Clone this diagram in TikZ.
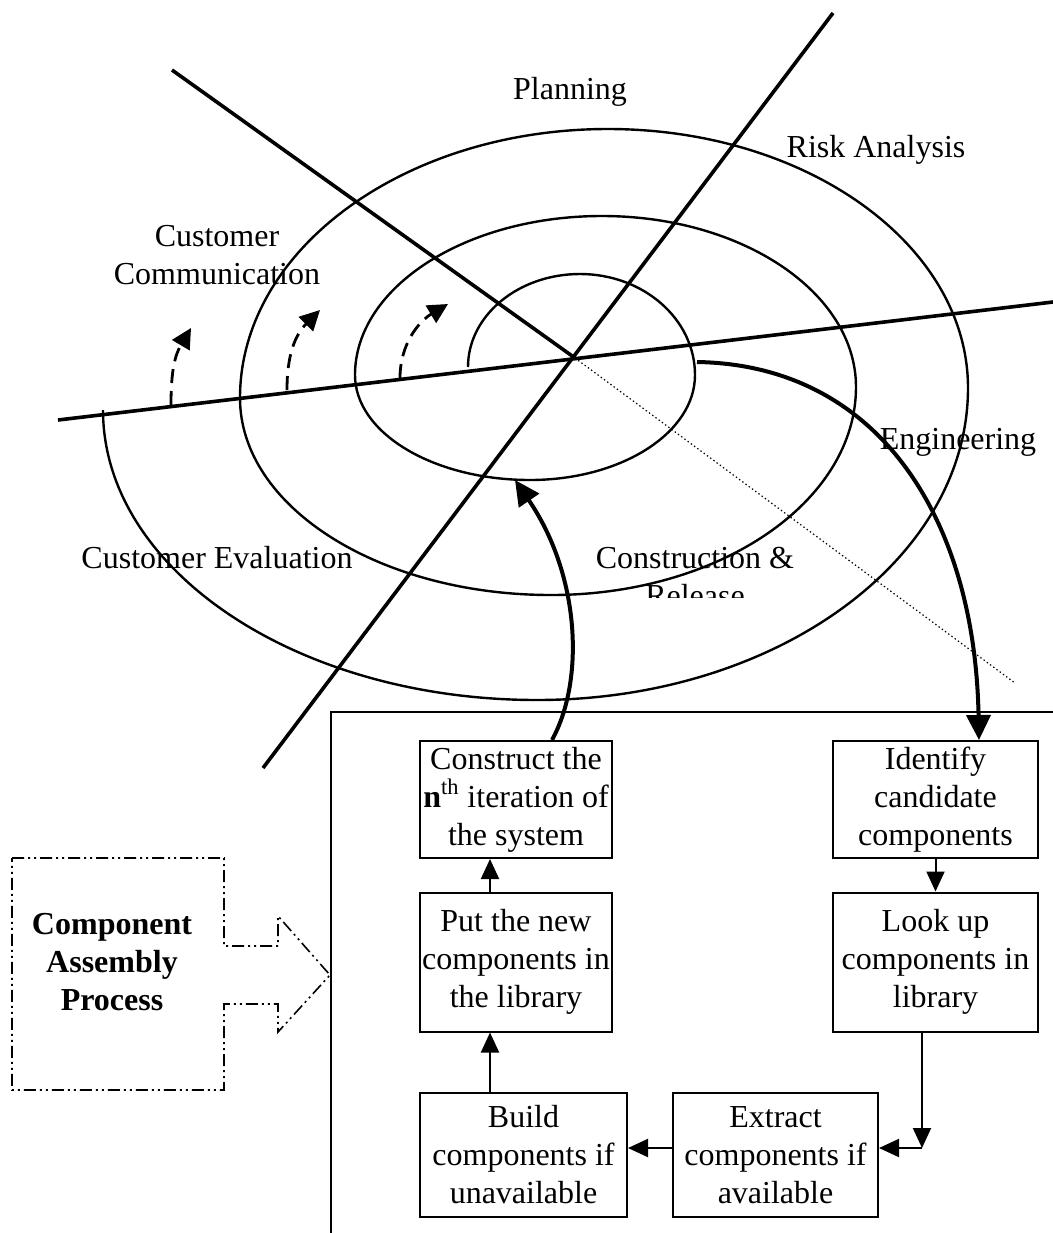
\documentclass[tikz,border=0pt]{standalone}
\usepackage{fontspec}
\setmainfont{Liberation Serif}
\usetikzlibrary{arrows.meta}
\begin{document}
\begin{tikzpicture}[x=0.5pt,y=-0.5pt,
  axis/.style={line width=1.8pt},
  spiral/.style={line width=1.2pt},
  loop/.style={dash pattern=on 7pt off 4pt, line width=1.4pt,
    -{Triangle[length=10pt,width=10pt]}},
  flow/.style={line width=2pt, -{Triangle[length=12.5pt,width=12pt]}},
  link/.style={line width=1pt, -{Triangle[length=10pt,width=9pt]}},
  stepbox/.style={draw, line width=1pt, align=center, inner sep=0pt,
    font=\fontsize{16}{19}\selectfont},
  label/.style={align=center, font=\fontsize{16}{19}\selectfont},
  ddot/.style={line width=0.8pt,
    dash pattern=on 6pt off 2pt on 1pt off 2pt on 1pt off 2pt},
]
\useasboundingbox (0,0) rectangle (1053,1233);

% quadrant axes
\coordinate (ctr) at (575,358);
\draw[axis] (58,420) -- (1053,302);
\draw[axis] (172,70) -- (ctr);
\draw[axis] (833,13) -- (263,768);
\draw[line width=0.6pt, dash pattern=on 0.7pt off 1.3pt] (ctr) -- (1015,683);

% spiral built from quarter ellipses
\draw[spiral] (468,367)
  arc[start angle=180, end angle=270, x radius=112, y radius=93]
  arc[start angle=270, end angle=360, x radius=115, y radius=101]
  arc[start angle=0,   end angle=90,  x radius=165, y radius=105]
  arc[start angle=90,  end angle=180, x radius=175, y radius=105]
  arc[start angle=180, end angle=270, x radius=247, y radius=159]
  arc[start angle=270, end angle=360, x radius=254, y radius=171]
  arc[start angle=0,   end angle=90,  x radius=305, y radius=208]
  arc[start angle=90,  end angle=180, x radius=311, y radius=197]
  arc[start angle=180, end angle=270, x radius=368, y radius=269]
  arc[start angle=270, end angle=360, x radius=360, y radius=259]
  arc[start angle=0,   end angle=90,  x radius=431, y radius=312]
  arc[start angle=90,  end angle=180, x radius=434, y radius=290];

% dashed progress arrows
\coordinate (d1s) at (171,405); \coordinate (d1e) at (191,328);
\coordinate (d2s) at (287,390); \coordinate (d2e) at (320,310);
\coordinate (d3s) at (400,378); \coordinate (d3e) at (448,304);
\draw[loop] (d1s) .. controls (171,370) and (175,355) .. (d1e);
\draw[loop] (d2s) .. controls (287,355) and (295,335) .. (d2e);
\draw[loop] (d3s) .. controls (400,345) and (418,322) .. (d3e);

% sector labels
\node[label] (plan) at (570,92) {Planning};
\node[label] (risk) at (876,150) {Risk Analysis};
\node[label] (comm) at (217,255) {Customer\\Communication};
\node[label] (eng) at (958,442) {Engineering};
\node[label] (eval) at (217,558) {Customer Evaluation};
\begin{scope}
  \clip (540,500) rectangle (840,597);
  \node[label] (cons) at (695,577) {Construction \&\\Release};
\end{scope}

% component assembly frame
\draw[line width=1pt] (331,1233) -- (331,712) -- (1053,712);

% process steps
\node[stepbox, minimum width=96pt, minimum height=58.5pt] (b1) at (516,799.5)
  {Construct the\\\textbf{n}\textsuperscript{th} iteration of\\the system};
\node[stepbox, minimum width=102.5pt, minimum height=58.5pt] (b2) at (935.5,799.5)
  {Identify\\candidate\\components};
\node[stepbox, minimum width=96pt, minimum height=69.5pt] (b3) at (516,962)
  {Put the new\\components in\\the library};
\node[stepbox, minimum width=102.5pt, minimum height=69.5pt] (b4) at (935.5,962)
  {Look up\\components in\\library};
\node[stepbox, minimum width=103.5pt, minimum height=62pt] (b5) at (523.5,1155)
  {Build\\components if\\unavailable};
\node[stepbox, minimum width=102.5pt, minimum height=62pt] (b6) at (775.5,1155)
  {Extract\\components if\\available};

\coordinate (lc) at (490,0);
\coordinate (turn) at (922,1148);
\draw[link] (b2.south) -- (b4.north);
\draw[link] (b4.south -| turn) -- (turn);
\draw[link] (turn) -- (b6.east |- turn);
\draw[link] (b6.west |- turn) -- (b5.east |- turn);
\draw[link] (b5.north -| lc) -- (b3.south -| lc);
\draw[link] (b3.north -| lc) -- (b1.south -| lc);

% links between spiral and steps
\coordinate (s1) at (697,362);
\coordinate (t1) at (979,0);
\coordinate (s2) at (515,480);
\coordinate (t2) at (552,0);
\draw[flow] (s1) .. controls (880,365) and (975,520) .. (b2.north -| t1);
\draw[flow] (b1.north -| t2) .. controls (585,680) and (580,575) .. (s2);

% side label with dash-dot outline arrow
\draw[ddot] (12,858) -- (224,858) -- (224,946) -- (278,946) -- (278,916)
  -- (330,975) -- (278,1032) -- (278,1004) -- (224,1004) -- (224,1090)
  -- (12,1090) -- cycle;
\node[label, font=\fontsize{16}{19}\selectfont\bfseries] (cap) at (112,962)
  {Component\\Assembly\\Process};
\end{tikzpicture}
\end{document}
